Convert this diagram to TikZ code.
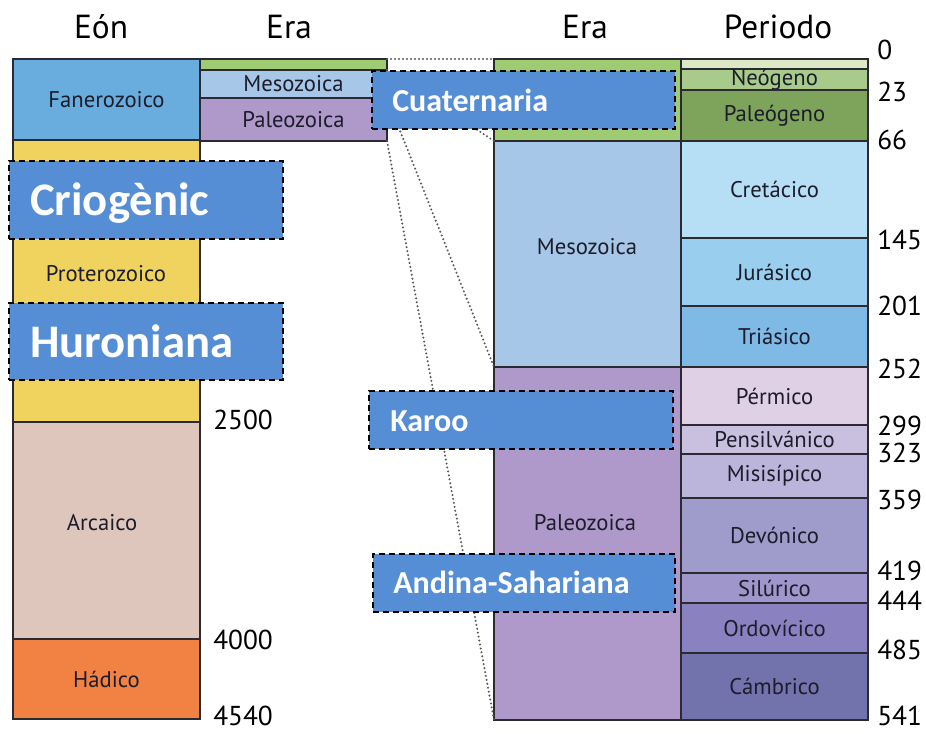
\documentclass[tikz,border=0pt]{standalone}
\usepackage{fontspec}
\setmainfont{PT Sans}
\newfontfamily\calfont{Carlito}
\usepackage{tikz}
\usetikzlibrary{fit}
\usepackage{xcolor}
\definecolor{unitline}{HTML}{2A2A30}
\definecolor{unittext}{HTML}{1C1C2A}
\definecolor{glacblue}{HTML}{558ED5}
\definecolor{faneroc}{HTML}{69ADDF}
\definecolor{proteroc}{HTML}{F0D35E}
\definecolor{arcaicoc}{HTML}{DFC6BC}
\definecolor{hadicoc}{HTML}{F28244}
\definecolor{cenozc}{HTML}{9FCB73}
\definecolor{mesozc}{HTML}{A7C7E8}
\definecolor{paleozc}{HTML}{AF99CB}
\definecolor{cuatc}{HTML}{DDE9C6}
\definecolor{neogc}{HTML}{A8CB8C}
\definecolor{paleogc}{HTML}{7EA35A}
\definecolor{cretc}{HTML}{B6DEF5}
\definecolor{jurc}{HTML}{9ACEEE}
\definecolor{triac}{HTML}{7FBAE6}
\definecolor{permc}{HTML}{E0D0E6}
\definecolor{pensc}{HTML}{C9C0E0}
\definecolor{misic}{HTML}{BBB4DB}
\definecolor{devoc}{HTML}{9F9BCB}
\definecolor{siluc}{HTML}{9F96CB}
\definecolor{ordoc}{HTML}{8A82C0}
\definecolor{cambc}{HTML}{7272AC}

\begin{document}
\begin{tikzpicture}[x=0.75pt, y=-0.75pt,
  unit/.style={draw=unitline, line width=1pt, inner sep=0pt, outer sep=0pt},
  unitname/.style={font=\fontsize{17}{19}\selectfont, text=unittext, inner sep=0pt},
  colhead/.style={font=\fontsize{25}{28}\selectfont, anchor=base, inner sep=0pt},
  agelabel/.style={font=\fontsize{20.5}{23}\selectfont, anchor=west, inner sep=0pt},
  linkline/.style={draw=black!65, line width=1.7pt, line cap=round, dash pattern=on 0pt off 3pt},
  glacbox/.style={draw=black, fill=glacblue, line width=1.2pt, dash pattern=on 4.5pt off 3pt,
                  inner sep=0pt, outer sep=0pt},
  glacname/.style={text=white, font=\calfont\bfseries, anchor=base west, inner sep=0pt}]
\useasboundingbox (0,0) rectangle (926,733);

% column heads
\node[colhead] (hEon) at (101,38) {Eón};
\node[colhead] (hEraL) at (289,38) {Era};
\node[colhead] (hEraR) at (585,38) {Era};
\node[colhead] (hPer) at (778,38) {Periodo};

% eones
\node[unit, fill=faneroc, fit={(13,59) (200,140)}] (fanero) {};
\node[unit, fill=proteroc, fit={(13,140) (200,422)}] (protero) {};
\node[unit, fill=arcaicoc, fit={(13,422) (200,639)}] (arcaico) {};
\node[unit, fill=hadicoc, fit={(13,639) (200,719)}] (hadico) {};
\node[unitname] (fanero-t) at (fanero.center) {Fanerozoico};
\node[unitname] (protero-t) at (106,274) {Proterozoico};
\node[unitname] (arcaico-t) at (102,523) {Arcaico};
\node[unitname] (hadico-t) at (hadico.center) {Hádico};

% eras (small)
\node[unit, fill=cenozc, fit={(200,59) (387,70)}] (cenoS) {};
\node[unit, fill=mesozc, fit={(200,70) (387,98)}] (mesoS) {};
\node[unit, fill=paleozc, fit={(200,98) (387,141)}] (paleoS) {};
\node[unitname] (mesoS-t) at (mesoS.center) {Mesozoica};
\node[unitname] (paleoS-t) at (paleoS.center) {Paleozoica};

% eras (large)
\node[unit, fill=cenozc, fit={(494,59) (681,141)}] (cenoL) {};
\node[unit, fill=mesozc, fit={(494,141) (681,367)}] (mesoL) {};
\node[unit, fill=paleozc, fit={(494,367) (681,720)}] (paleoL) {};
\node[unitname] (mesoL-t) at (587,247) {Mesozoica};
\node[unitname] (paleoL-t) at (585,523) {Paleozoica};

% periodos
\foreach \nm/\ya/\yb/\col/\txt in {cuat/59/69/cuatc/, neog/69/90/neogc/Neógeno,
    paleog/90/141/paleogc/Paleógeno, cret/141/238/cretc/Cretácico,
    jur/238/306/jurc/Jurásico, tria/306/367/triac/Triásico,
    perm/367/425/permc/Pérmico, pens/425/454/pensc/Pensilvánico,
    misi/454/498/misic/Misisípico, devo/498/573/devoc/Devónico,
    silu/573/603/siluc/Silúrico, ordo/603/653/ordoc/Ordovícico,
    camb/653/720/cambc/Cámbrico}
{
  \node[unit, fill=\col, fit={(681,\ya) (868,\yb)}] (\nm) {};
  \node[unitname] (\nm-t) at (\nm.center) {\txt};
}

% edades
\foreach \age/\yy in {0/50, 23/92, 66/140, 145/240, 201/306, 252/369, 299/426,
    323/453, 359/500, 419/571, 444/601, 485/650, 541/716}
  \node[agelabel] (age\age) at (877,\yy) {\age};
\foreach \age/\yy in {2500/420, 4000/640, 4540/716}
  \node[agelabel] (age\age) at (213,\yy) {\age};

% zoom lines
\draw[linkline] (cenoS.north east) -- (cenoL.north west);
\draw[linkline] (cenoS.south east) -- (cenoL.south west);
\draw[linkline] (mesoS.south east) -- (mesoL.south west);
\draw[linkline] (paleoS.south east) -- (paleoL.south west);

% glaciaciones
\node[glacbox, fit={(9,161) (283,239)}] (criog) {};
\node[glacname, font=\calfont\bfseries\fontsize{35}{38}\selectfont] (criog-t) at (30,215) {Criogènic};
\node[glacbox, fit={(9,303) (283,380)}] (huron) {};
\node[glacname, font=\calfont\bfseries\fontsize{35}{38}\selectfont] (huron-t) at (30,357) {Huroniana};
\node[glacbox, fit={(372,71) (675,129)}] (cuater) {};
\node[glacname, font=\calfont\bfseries\fontsize{24}{27}\selectfont] (cuater-t) at (392,111) {Cuaternaria};
\node[glacbox, fit={(369,391) (673,449)}] (karoo) {};
\node[glacname, font=\calfont\bfseries\fontsize{24}{27}\selectfont] (karoo-t) at (390,431) {Karoo};
\node[glacbox, fit={(373,554) (675,612)}] (andina) {};
\node[glacname, font=\calfont\bfseries\fontsize{24}{27}\selectfont] (andina-t) at (393,593) {Andina-Sahariana};
\end{tikzpicture}
\end{document}
